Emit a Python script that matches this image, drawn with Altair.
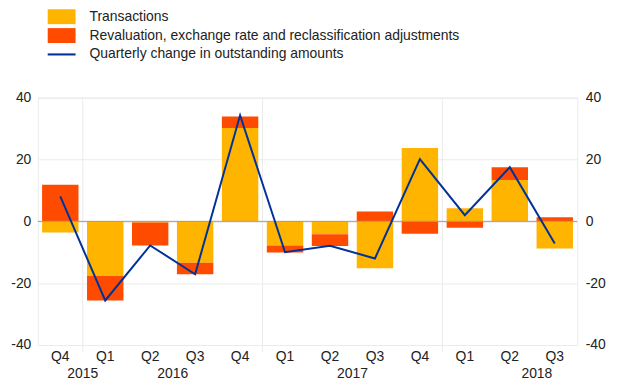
import altair as alt
import pandas as pd

quarters = ["2015Q4", "2016Q1", "2016Q2", "2016Q3", "2016Q4", "2017Q1",
            "2017Q2", "2017Q3", "2017Q4", "2018Q1", "2018Q2", "2018Q3"]
transactions = [-3.6, -17.6, -0.4, -13.4, 30.2, -7.8, -4.2, -15.2, 23.7, 4.2, 13.4, -8.8]
revaluation = [11.8, -8.0, -7.4, -3.7, 3.7, -2.3, -3.8, 3.2, -4.0, -2.1, 4.1, 1.3]
quarterly_change = [8.1, -25.6, -7.8, -17.1, 34.3, -10.0, -7.9, -12.0, 20.1, 2.0, 17.5, -7.2]

series_names = ["Transactions",
                "Revaluation, exchange rate and reclassification adjustments",
                "Quarterly change in outstanding amounts"]
series_colors = ["#FFB400", "#FF4B00", "#003299"]

year_labels = ["2015", "2016", "2017"]
year_anchor = ["2015Q4", "2016Q2", "2017Q2"]
last_year_label = ["2018"]
last_year_anchor = ["2018Q3"]
year_boundaries = ["2016Q1", "2017Q1", "2018Q1"]
y_ticks = [-40, -20, 0, 20, 40]

FONT = "Liberation Sans"
W, H = 543, 249
STEP = W / len(quarters)

bar_df = pd.DataFrame({
    "quarter": quarters * 2,
    "series": [series_names[0]] * len(quarters) + [series_names[1]] * len(quarters),
    "value": transactions + revaluation,
    "order": [0] * len(quarters) + [1] * len(quarters),
})
line_df = pd.DataFrame({"quarter": quarters, "value": quarterly_change,
                        "series": [series_names[2]] * len(quarters)})
legend_df = pd.DataFrame({"quarter": [quarters[0]] * 3, "value": [0, 0, 0],
                          "series": series_names})
year_df = pd.DataFrame({"quarter": year_anchor, "label": year_labels})
year_df2 = pd.DataFrame({"quarter": last_year_anchor, "label": last_year_label})
bound_df = pd.DataFrame({"quarter": year_boundaries})
zero_df = pd.DataFrame({"y": [0]})

xscale = alt.Scale(domain=quarters, paddingInner=0.19, paddingOuter=0.095)
yscale = alt.Scale(domain=[-40, 40], nice=False)
cscale = alt.Scale(domain=series_names, range=series_colors)
bar_path = "M-1.87,-1H1.87V1H-1.87Z"
line_path = "M-1.87,-0.14H1.87V0.14H-1.87Z"
shape_scale = alt.Scale(domain=series_names, range=[bar_path, bar_path, line_path])

x_axis = alt.Axis(title=None, labelExpr="substring(datum.label, 4)", ticks=False,
                  domain=False, grid=False, labelPadding=5, labelAngle=0)

left_axis = alt.Axis(title=None, values=y_ticks, ticks=False, domain=False,
                     grid=True, gridColor="#ebebeb", labelPadding=7, orient="left",
                     labelExpr="'' + datum.value")
right_axis = alt.Axis(title=None, values=y_ticks, ticks=False, domain=False,
                      grid=False, labelPadding=8, orient="right",
                      labelExpr="'' + datum.value")

leg = alt.Legend(orient="none", legendX=16.5, legendY=-89, title=None,
                 symbolSize=225, symbolStrokeWidth=0, labelOffset=20.5,
                 rowPadding=4, labelFontSize=14, labelFont=FONT, labelLimit=0,
                 labelColor="#222", padding=0)

legend_pts = alt.Chart(legend_df).mark_point(
    filled=True, opacity=1, size=0).encode(
    x=alt.X("quarter:N", scale=xscale, sort=quarters, axis=x_axis),
    y=alt.Y("value:Q", scale=yscale, axis=None),
    color=alt.Color("series:N", scale=cscale, legend=leg),
    shape=alt.Shape("series:N", scale=shape_scale, legend=leg),
)

bounds = alt.Chart(bound_df).mark_rule(color="#ebebeb", strokeWidth=1, xOffset=-STEP / 2).encode(
    x=alt.X("quarter:N", scale=xscale, sort=quarters, axis=x_axis),
    y=alt.value(0), y2=alt.value(H + 7),
)

bars = alt.Chart(bar_df).mark_bar().encode(
    x=alt.X("quarter:N", scale=xscale, sort=quarters, axis=x_axis),
    y=alt.Y("value:Q", stack="zero", scale=yscale, axis=left_axis),
    color=alt.Color("series:N", scale=cscale, legend=leg),
    order=alt.Order("order:Q"),
)

zero = alt.Chart(zero_df).mark_rule(color="#9a9a9a", strokeWidth=1).encode(
    y=alt.Y("y:Q", scale=yscale, axis=None),
)

line = alt.Chart(line_df).mark_line(strokeWidth=2).encode(
    x=alt.X("quarter:N", scale=xscale, sort=quarters, axis=x_axis),
    y=alt.Y("value:Q", scale=yscale, axis=right_axis),
    color=alt.Color("series:N", scale=cscale, legend=leg),
)

years = alt.Chart(year_df).mark_text(font=FONT, fontSize=14, color="#222",
                                     baseline="middle", dx=STEP / 2).encode(
    x=alt.X("quarter:N", scale=xscale, sort=quarters, axis=x_axis),
    y=alt.value(H + 29),
    text="label:N",
)
years2 = alt.Chart(year_df2).mark_text(font=FONT, fontSize=14, color="#222",
                                       baseline="middle", dx=-18).encode(
    x=alt.X("quarter:N", scale=xscale, sort=quarters, axis=x_axis),
    y=alt.value(H + 29),
    text="label:N",
)

chart = alt.layer(legend_pts, bounds, bars, zero, line, years, years2).resolve_axis(
    y="independent"
).properties(
    width=W, height=H,
    autosize=alt.AutoSizeParams(type="none"),
    padding={"left": 30, "top": 89, "right": 35, "bottom": 40},
).configure_view(stroke="#ebebeb").configure_axis(
    labelFont=FONT, labelFontSize=14, labelColor="#222"
)

chart.save("out.html", embed_options={"renderer": "svg", "actions": False})
